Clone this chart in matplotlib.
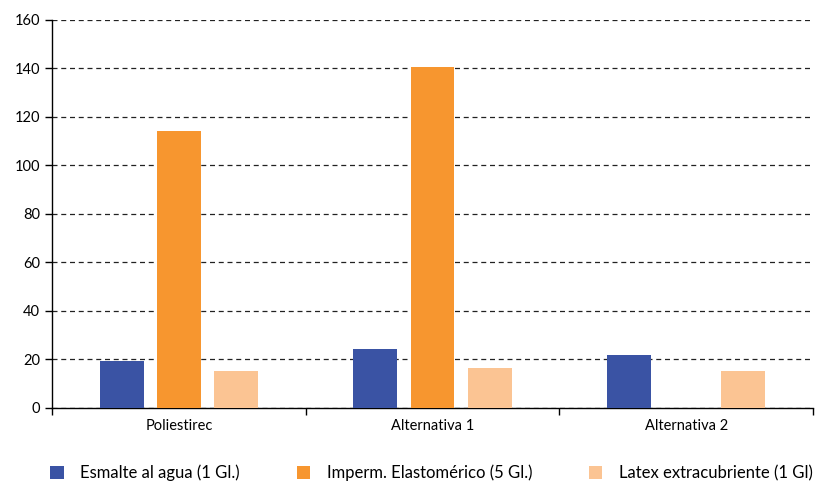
import matplotlib.pyplot as plt
import numpy as np

plt.rcParams['font.family'] = ['Lato', 'DejaVu Sans']

categories = ["Poliestirec", "Alternativa 1", "Alternativa 2"]
series_names = ["Esmalte al agua (1 Gl.)", "Imperm. Elastomérico (5 Gl.)", "Latex extracubriente (1 Gl)"]
esmalte = [19.5, 24.2, 21.9]
imperm = [114.2, 140.6, 0]
latex = [15.4, 16.4, 15.4]
colors = ["#3A53A4", "#F7962F", "#FBC493"]

fig = plt.figure(figsize=(8.19, 4.83), dpi=100)
ax = fig.add_axes([0.0635, 0.1553, 0.9292, 0.8033])

x = np.arange(len(categories))
w = 0.173
step = 0.225
for i, (vals, name, c) in enumerate(zip([esmalte, imperm, latex], series_names, colors)):
    ax.bar(x + (i - 1) * step, vals, w, color=c, label=name, zorder=3)

ax.set_ylim(0, 160)
ax.set_yticks(np.arange(0, 161, 20))
ax.set_xlim(-0.5, 2.5)
ax.set_xticks([-0.5, 0.5, 1.5, 2.5])
ax.set_xticklabels([])
ax.set_xticks(x, minor=True)
ax.set_xticklabels(categories, minor=True)
ax.tick_params(axis='x', which='minor', length=0, pad=8, labelsize=10.5)
ax.tick_params(axis='x', which='major', length=5, width=1)
ax.tick_params(axis='y', length=5, width=1, labelsize=10.5)

ax.grid(axis='y', linestyle=(0, (4, 3)), color='#222222', linewidth=0.9, zorder=0)
for s in ['top', 'right']:
    ax.spines[s].set_visible(False)
for s in ['left', 'bottom']:
    ax.spines[s].set_linewidth(1)

fig.legend(loc='center', bbox_to_anchor=(0.527, 0.021), ncol=3, frameon=False,
           fontsize=12, handlelength=0.8, handleheight=0.8, columnspacing=3.4,
           handletextpad=1.0, borderpad=0, borderaxespad=0)

fig.savefig("out.png", dpi=100)
